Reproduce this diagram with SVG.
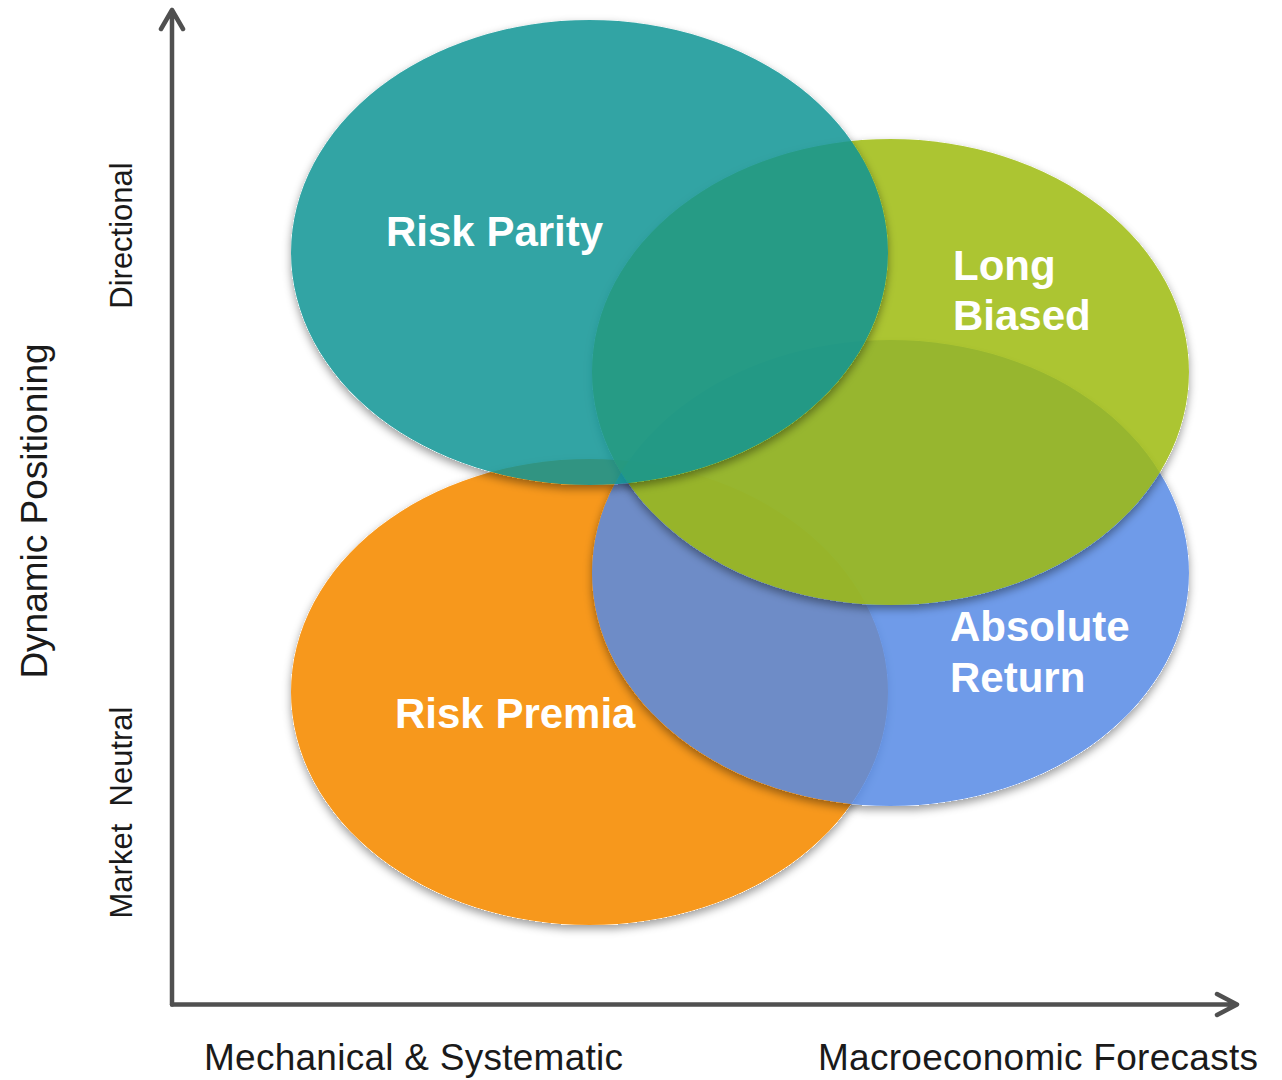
<svg xmlns="http://www.w3.org/2000/svg" width="1282" height="1080" viewBox="0 0 1282 1080">
<style>
.lbl{font-family:"Liberation Sans",Arial,sans-serif;font-weight:bold;font-size:42px;fill:#ffffff}
.ax{font-family:"Liberation Sans",Arial,sans-serif;font-size:37px;fill:#1a1a1a;white-space:pre}
.axs{font-family:"Liberation Sans",Arial,sans-serif;font-size:31px;fill:#1a1a1a;white-space:pre}
.axis{stroke:#505050;stroke-width:4.5;fill:none;stroke-linecap:round;stroke-linejoin:round}
.ell{fill-opacity:0.85;filter:url(#sh)}
</style>
<defs>
<filter id="sh" x="-10%" y="-10%" width="120%" height="130%">
<feComponentTransfer in="SourceAlpha" result="solid"><feFuncA type="linear" slope="20"/></feComponentTransfer>
<feGaussianBlur in="solid" stdDeviation="4" result="b"/>
<feOffset in="b" dy="4" result="o"/>
<feFlood flood-color="#000" flood-opacity="0.38"/>
<feComposite in2="o" operator="in" result="s"/>
<feComposite in="s" in2="solid" operator="out" result="so"/>
<feMerge><feMergeNode in="so"/><feMergeNode in="SourceGraphic"/></feMerge>
</filter>
</defs>
<rect width="1282" height="1080" fill="#ffffff"/>
<g id="risk-premia">
<ellipse class="ell" cx="589.5" cy="692" rx="298.5" ry="233" fill="#F7981D" style="fill-opacity:1"/>
<text class="lbl" x="395" y="728">Risk Premia</text>
</g>
<g id="absolute-return">
<ellipse class="ell" cx="890.5" cy="573" rx="298.5" ry="233" fill="#568AE5"/>
</g>
<g id="long-biased">
<ellipse class="ell" cx="890.5" cy="372" rx="298.5" ry="233" fill="#9EBB0E"/>
</g>
<g id="risk-parity">
<ellipse class="ell" cx="589.5" cy="252.5" rx="298.5" ry="232.5" fill="#0F9494"/>
<text class="lbl" x="386" y="246">Risk Parity</text>
</g>
<g id="labels-top">
<text class="lbl" x="953" y="280">Long</text>
<text class="lbl" x="953" y="330">Biased</text>
<text class="lbl" x="950" y="641">Absolute</text>
<text class="lbl" x="950" y="692">Return</text>
</g>
<g id="axes">
<path class="axis" d="M172,1004.5 V10 M161,29 L172,10 L183,29"/>
<path class="axis" d="M172,1004.5 H1236 M1217,994 L1237,1004.5 L1217,1015"/>
</g>
<g id="axis-labels">
<text class="ax" x="204" y="1070" textLength="419" lengthAdjust="spacing">Mechanical &amp; Systematic</text>
<text class="ax" x="818" y="1070" textLength="440" lengthAdjust="spacing">Macroeconomic Forecasts</text>
<text class="ax" transform="translate(47,511) rotate(-90)" text-anchor="middle">Dynamic Positioning</text>
<text class="axs" transform="translate(132,235.5) rotate(-90)" text-anchor="middle">Directional</text>
<text class="axs" transform="translate(132,812.5) rotate(-90)" text-anchor="middle" font-size="30">Market  Neutral</text>
</g>
</svg>
